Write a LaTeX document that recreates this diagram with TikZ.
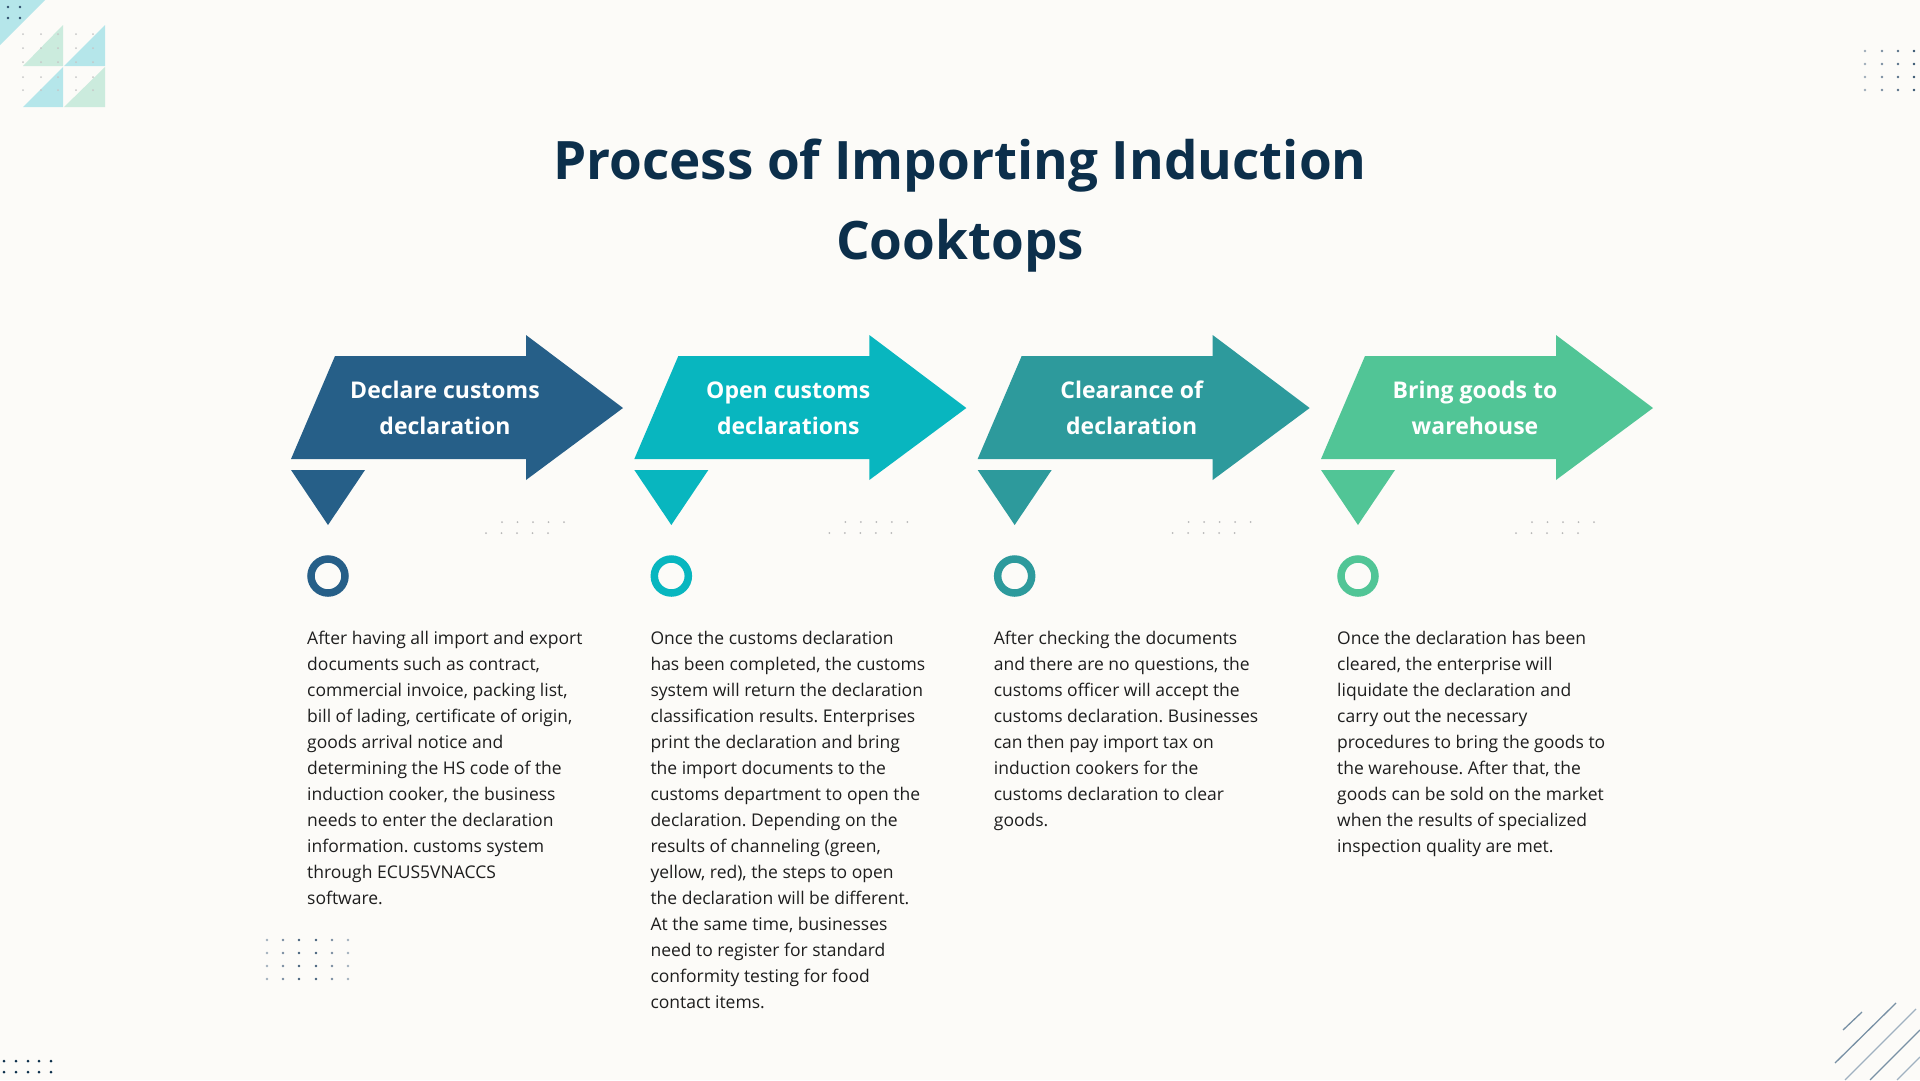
\documentclass[tikz,border=0pt]{standalone}
\usepackage{fontspec}
\setmainfont{Open Sans}
\usepackage{tikz}
\frenchspacing

\definecolor{bgpaper}{HTML}{FCFBF8}
\definecolor{titlenavy}{HTML}{0C2F4B}
\definecolor{stepA}{HTML}{265F88}
\definecolor{stepB}{HTML}{08B6BF}
\definecolor{stepC}{HTML}{2D9A9C}
\definecolor{stepD}{HTML}{51C596}
\definecolor{dotgray}{HTML}{B8B8B8}
\definecolor{dotnavy}{HTML}{2E4D6B}
\definecolor{lightcyan}{HTML}{B5E6EA}
\definecolor{lightmint}{HTML}{CBEBDD}
\definecolor{linegray}{HTML}{7890A5}
\definecolor{bodyink}{HTML}{1E1E1E}

\begin{document}
\begin{tikzpicture}[x=1pt,y=-1pt,
	heading/.style={text=titlenavy,font=\bfseries\fontsize{53}{80}\selectfont,align=center},
	steplabel/.style={text=white,font=\bfseries\fontsize{23}{36}\selectfont,align=center},
	stepbody/.style={text=bodyink,font=\fontsize{17.5}{26}\selectfont,align=left,anchor=north west,inner sep=0pt},
	ring/.style={circle,line width=7.5pt,minimum size=34pt,inner sep=0pt}]

\fill[bgpaper] (0,0) rectangle (1920,1080);
\useasboundingbox (0,0) rectangle (1920,1080);

% corner decorations
\fill[lightcyan] (0,0) -- (45,0) -- (0,45) -- cycle;
\foreach \x in {8,20} \foreach \y in {7,18} \fill[dotnavy] (\x,\y) circle (1.4pt);
\fill[lightmint] (23,66) -- (63,25) -- (63,66) -- cycle;
\fill[lightcyan] (64,66) -- (105,25) -- (105,66) -- cycle;
\fill[lightcyan] (23,107) -- (63,67) -- (63,107) -- cycle;
\fill[lightmint] (64,107) -- (105,67) -- (105,107) -- cycle;
\foreach \x in {23,41,58,76,93} \foreach \y in {34,48,62,77,90} \fill[gray!45] (\x,\y) circle (1pt);

\foreach \x [count=\k] in {1865,1882,1898,1914} \foreach \y in {51,64,77,90}
	\fill[dotnavy!\the\numexpr 30+\k*17\relax] (\x,\y) circle (1.3pt);
\foreach \x in {4,16,28,39,51} \foreach \y in {1061,1072} \fill[titlenavy] (\x,\y) circle (1.5pt);
\foreach \x/\s in {267/45,283/65,299/90,316/90,332/65,348/45} \foreach \y in {940,953,966,979}
	\fill[dotnavy!\s] (\x,\y) circle (1.3pt);

\draw[linegray,line width=1.3pt] (1843,1030) -- (1862,1012);
\draw[linegray,line width=1.3pt] (1835,1063) -- (1896,1003);
\draw[linegray!70,line width=1.3pt] (1845,1080) -- (1916,1009);
\draw[linegray,line width=1.3pt] (1870,1080) -- (1920,1030);
\draw[linegray!70,line width=1.3pt] (1897,1080) -- (1920,1057);

% title
\node[heading]	(title)	at (960,206)	{Process of Importing Induction\\Cooktops};

% arrows, markers and rings
\foreach \c [count=\i from 0] in {stepA,stepB,stepC,stepD} {
\begin{scope}[shift={(\i*343.33,0)}]
	\fill[\c] (335,356) -- (526,356) -- (526,335) -- (623,408) -- (526,480) -- (526,459) -- (291,459) -- cycle;
	\fill[\c] (291,470) -- (365,470) -- (328,525) -- cycle;
	\node[ring,draw=\c]	(ring\i)	at (328,576)	{};
	\foreach \k in {0,...,4} {
		\fill[dotgray] (502+\k*15.5,522) circle (1pt);
		\fill[dotgray] (486+\k*15.5,533) circle (1pt);
	}
\end{scope}
}

\node[steplabel]	(declare)	at (445,408)		{Declare customs\\declaration};
\node[steplabel]	(open)		at (788.3,408)	{Open customs\\declarations};
\node[steplabel]	(clearance)	at (1131.7,408)	{Clearance of\\declaration};
\node[steplabel]	(bring)		at (1475,408)	{Bring goods to\\warehouse};

\node[stepbody]	(declaretext)	at (307,631)	{After having all import and export\\documents such as contract,\\commercial invoice, packing list,\\bill of lading, certificate of origin,\\goods arrival notice and\\determining the HS code of the\\induction cooker, the business\\needs to enter the declaration\\information. customs system\\through ECUS5VNACCS\\software.};
\node[stepbody]	(opentext)	at (650.3,631)	{Once the customs declaration\\has been completed, the customs\\system will return the declaration\\classification results. Enterprises\\print the declaration and bring\\the import documents to the\\customs department to open the\\declaration. Depending on the\\results of channeling (green,\\yellow, red), the steps to open\\the declaration will be different.\\At the same time, businesses\\need to register for standard\\conformity testing for food\\contact items.};
\node[stepbody]	(clearancetext)	at (993.7,631)	{After checking the documents\\and there are no questions, the\\customs officer will accept the\\customs declaration. Businesses\\can then pay import tax on\\induction cookers for the\\customs declaration to clear\\goods.};
\node[stepbody]	(bringtext)	at (1337,631)	{Once the declaration has been\\cleared, the enterprise will\\liquidate the declaration and\\carry out the necessary\\procedures to bring the goods to\\the warehouse. After that, the\\goods can be sold on the market\\when the results of specialized\\inspection quality are met.};
\end{tikzpicture}
\end{document}
